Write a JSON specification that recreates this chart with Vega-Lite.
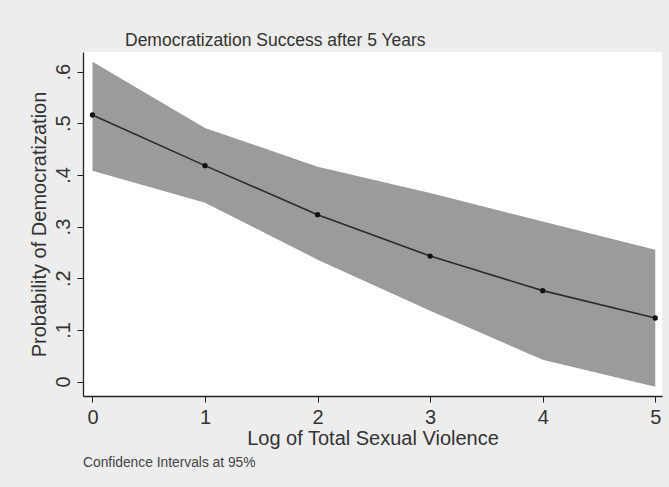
{
  "$schema": "https://vega.github.io/schema/vega-lite/v6.json",
  "width": 579,
  "height": 344,
  "autosize": "none",
  "padding": {"left": 83, "top": 52, "right": 7, "bottom": 91},
  "background": "#ededed",
  "config": {
    "view": {"fill": "white", "stroke": null},
    "font": "Liberation Sans",
    "axis": {
      "domainColor": "#222222",
      "domainWidth": 1.3,
      "tickColor": "#222222",
      "tickSize": 6,
      "grid": false,
      "labelColor": "#333333",
      "labelFontSize": 20,
      "titleColor": "#333333",
      "titleFontSize": 20,
      "titleFontWeight": "normal"
    }
  },
  "title": {
    "text": "Democratization Success after 5 Years",
    "anchor": "start",
    "frame": "group",
    "dx": 42,
    "offset": 3,
    "fontSize": 17.5,
    "fontWeight": "normal",
    "color": "#333333"
  },
  "layer": [
    {
      "data": {
        "values": [
          {"x": 0, "p": 0.516, "lo": 0.408, "hi": 0.619},
          {"x": 1, "p": 0.418, "lo": 0.346, "hi": 0.491},
          {"x": 2, "p": 0.323, "lo": 0.236, "hi": 0.416},
          {"x": 3, "p": 0.243, "lo": 0.137, "hi": 0.365},
          {"x": 4, "p": 0.176, "lo": 0.042, "hi": 0.310},
          {"x": 5, "p": 0.123, "lo": -0.010, "hi": 0.255}
        ]
      },
      "encoding": {
        "x": {
          "field": "x",
          "type": "quantitative",
          "scale": {"domain": [-0.084, 5.06], "nice": false, "zero": false},
          "axis": {
            "title": "Log of Total Sexual Violence",
            "values": [0, 1, 2, 3, 4, 5],
            "format": "d",
            "labelPadding": 5,
            "titlePadding": 1
          }
        }
      },
      "layer": [
        {
          "mark": {"type": "area", "color": "#9b9b9b", "opacity": 1},
          "encoding": {
            "y": {
              "field": "lo",
              "type": "quantitative",
              "scale": {"domain": [-0.028, 0.638], "nice": false, "zero": false},
              "axis": {
                "title": "Probability of Democratization",
                "values": [0, 0.1, 0.2, 0.3, 0.4, 0.5, 0.6],
                "labelExpr": "datum.value == 0 ? '0' : replace(format(datum.value, '.1f'), '0.', '.')",
                "labelAngle": -90,
                "labelAlign": "center",
                "labelBaseline": "bottom",
                "labelPadding": 4,
                "titlePadding": 4
              }
            },
            "y2": {"field": "hi"}
          }
        },
        {
          "mark": {"type": "line", "color": "#2b2b2b", "strokeWidth": 1.6},
          "encoding": {"y": {"field": "p", "type": "quantitative"}}
        },
        {
          "mark": {"type": "point", "filled": true, "color": "#111111", "size": 28, "opacity": 1},
          "encoding": {"y": {"field": "p", "type": "quantitative"}}
        }
      ]
    },
    {
      "data": {"values": [{"note": "Confidence Intervals at 95%"}]},
      "mark": {"type": "text", "align": "left", "baseline": "middle", "fontSize": 13.8, "color": "#444444", "clip": false},
      "encoding": {
        "x": {"datum": -0.084, "type": "quantitative"},
        "y": {"datum": -0.157, "type": "quantitative"},
        "text": {"field": "note"}
      }
    }
  ]
}
